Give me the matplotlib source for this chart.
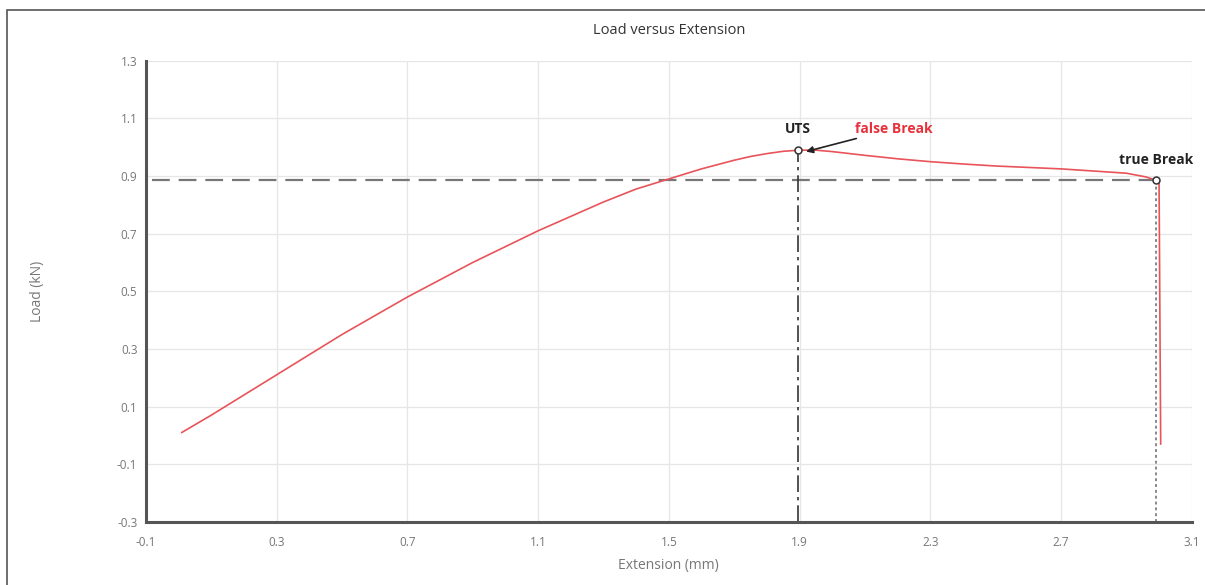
import matplotlib
matplotlib.use("Agg")
import matplotlib.pyplot as plt
from matplotlib.patches import Rectangle

# load/extension curve
extension = [0.01, 0.1, 0.3, 0.5, 0.7, 0.9, 1.1, 1.2, 1.3, 1.4, 1.5, 1.6, 1.7, 1.75,
             1.8, 1.85, 1.9, 1.95, 2.0, 2.1, 2.2, 2.3, 2.4, 2.5, 2.7, 2.9, 2.96,
             2.99, 3.0, 3.005]
load = [0.01, 0.07, 0.21, 0.35, 0.48, 0.60, 0.71, 0.76, 0.81, 0.855, 0.89, 0.925,
        0.955, 0.968, 0.978, 0.986, 0.99, 0.99, 0.985, 0.972, 0.96, 0.95, 0.942,
        0.935, 0.925, 0.91, 0.897, 0.886, 0.88, -0.03]

uts_x, uts_y = 1.894, 0.99
break_x, break_y = 2.99, 0.885

xticks = [-0.1, 0.3, 0.7, 1.1, 1.5, 1.9, 2.3, 2.7, 3.1]
yticks = [-0.3, -0.1, 0.1, 0.3, 0.5, 0.7, 0.9, 1.1, 1.3]

plt.rcParams['font.family'] = ['Open Sans', 'DejaVu Sans']

fig = plt.figure(figsize=(12.05, 5.85), dpi=100)
ax = fig.add_axes([0.121, 0.108, 0.868, 0.788])

# frame around the whole picture
fig.patches.append(Rectangle((7 / 1205, -0.01), 1.1, 1 - 10 / 585 + 0.01,
                             transform=fig.transFigure, fill=False,
                             edgecolor='#555555', linewidth=1.2))

ax.plot(extension, load, color='#e8545a', linewidth=1.2, zorder=3)

# helper lines
ax.plot([-0.08, break_x], [break_y, break_y], color='#777777', linewidth=1.6,
        dashes=(8, 4), zorder=2)
ax.plot([uts_x, uts_x], [-0.3, uts_y], color='#333333', linewidth=1.2,
        dashes=(10, 3, 2, 3), zorder=2)
ax.plot([break_x, break_x], [-0.3, break_y], color='#888888', linewidth=1.4,
        dashes=(1.5, 1.5), zorder=2)

ax.plot([uts_x, break_x], [uts_y, break_y], linestyle='none', marker='o',
        markersize=5, markerfacecolor='white', markeredgecolor='#333333',
        markeredgewidth=1.1, zorder=4)

ax.text(uts_x, 1.04, 'UTS', ha='center', va='bottom', fontsize=10,
        fontweight='bold', color='#222222')
ax.annotate('false Break', xy=(1.92, 0.985), xytext=(2.07, 1.04),
            ha='left', va='bottom', fontsize=10, fontweight='bold', color='#e8303a',
            arrowprops=dict(arrowstyle='-|>', color='#222222', lw=1.2,
                            shrinkA=0, shrinkB=0, mutation_scale=10))
ax.text(2.99, 0.93, 'true Break', ha='center', va='bottom', fontsize=10,
        fontweight='bold', color='#222222')

ax.set_xlim(-0.1, 3.1)
ax.set_ylim(-0.3, 1.3)
ax.set_xticks(xticks)
ax.set_yticks(yticks)
ax.set_xticklabels([str(t) for t in xticks])
ax.set_yticklabels([str(t) for t in yticks])
ax.tick_params(length=0, labelsize=8.5, labelcolor='#777777')
ax.tick_params(axis='x', pad=10)
ax.tick_params(axis='y', pad=6)
ax.grid(True, color='#e6e6e6', linewidth=0.9)
ax.set_axisbelow(True)
for s in ['top', 'right']:
    ax.spines[s].set_visible(False)
for s in ['left', 'bottom']:
    ax.spines[s].set_color('#555555')
    ax.spines[s].set_linewidth(2.2)

ax.set_title('Load versus Extension', fontsize=10.5, color='#333333', pad=19)
ax.set_xlabel('Extension (mm)', fontsize=10, color='#777777', labelpad=7)
ax.set_ylabel('Load (kN)', fontsize=10, color='#777777', labelpad=52)

fig.savefig('out.png', dpi=100)
